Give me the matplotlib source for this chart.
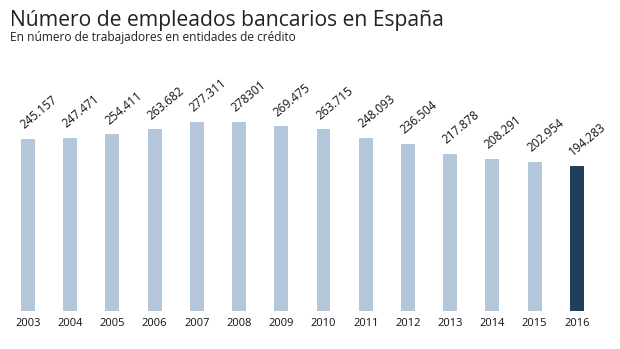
import matplotlib
matplotlib.use('Agg')
import matplotlib.pyplot as plt

# data
years = ['2003', '2004', '2005', '2006', '2007', '2008', '2009',
         '2010', '2011', '2012', '2013', '2014', '2015', '2016']
empleados = [245157, 247471, 254411, 263682, 277311, 278301, 269475,
             263715, 248093, 236504, 217878, 208291, 202954, 194283]
etiquetas = ['245.157', '247.471', '254.411', '263.682', '277.311', '278301', '269.475',
             '263.715', '248.093', '236.504', '217.878', '208.291', '202.954', '194.283']

LIGHT = '#b3c6da'
DARK = '#1f3f5c'
BASE = -79000  # the graphic's bars do not start at zero

plt.rcParams['font.family'] = ['Open Sans', 'DejaVu Sans']

W, H = 620, 349
fig = plt.figure(figsize=(W / 100, H / 100), dpi=100)
fig.patch.set_facecolor('white')

# axes placed in pixel terms
left_px, right_px = 6.9, 6.9 + 591
bottom_px, top_px = 311, 100
ax = fig.add_axes([left_px / W, 1 - bottom_px / H,
                   (right_px - left_px) / W, (bottom_px - top_px) / H])

x = list(range(len(years)))
colors = [LIGHT] * (len(years) - 1) + [DARK]
bw = 0.33
ax.bar(x, [v - BASE for v in empleados], width=bw, color=colors, bottom=BASE)

ax.set_xlim(-0.5, len(years) - 0.5)
ax.set_ylim(BASE, 319000)

for xi, v, lab in zip(x, empleados, etiquetas):
    ax.annotate(lab, xy=(xi - bw / 2, v), xytext=(2.5, 7), textcoords='offset points',
                rotation=40, rotation_mode='anchor', ha='left', va='baseline',
                fontsize=8.5, color='#111111')

ax.set_xticks(x)
ax.set_xticklabels(years, fontsize=8, color='#111111')
ax.tick_params(axis='x', length=0, pad=5)
ax.set_yticks([])
for s in ax.spines.values():
    s.set_visible(False)

fig.text(10 / W, 1 - 25.8 / H, 'Número de empleados bancarios en España',
         fontsize=15.2, color='#222222', ha='left', va='baseline')
fig.text(10 / W, 1 - 41 / H, 'En número de trabajadores en entidades de crédito',
         fontsize=8.6, color='#222222', ha='left', va='baseline')

fig.savefig('out.png', dpi=100, facecolor='white')
